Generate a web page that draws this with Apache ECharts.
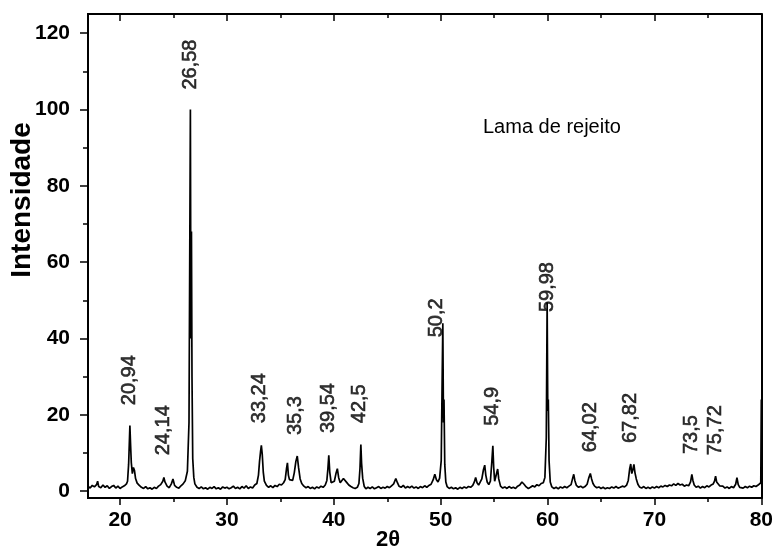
<!DOCTYPE html>
<html>
<head>
<meta charset="utf-8">
<script src="https://cdn.jsdelivr.net/npm/echarts@6/dist/echarts.min.js"></script>
<style>
  html, body { margin: 0; padding: 0; background: #fff; }
  #main { width: 776px; height: 549px; }
</style>
</head>
<body>
<div id="main"></div>
<script>
// difratograma: [2theta, intensidade]
var scan = [
  [17.0,1.3],[17.2,0.8],[17.4,1.5],[17.6,1.1],[17.8,1.7],[17.9,2.6],[18.0,1.2],[18.2,0.9],[18.4,1.6],[18.6,1.0],[18.8,1.4],[19.0,0.7],[19.2,1.2],[19.4,1.5],[19.6,0.8],[19.8,1.3],[20.0,0.7],[20.2,1.1],[20.4,1.4],[20.6,1.9],
  [20.7,2.6],[20.8,7.0],[20.86,12.0],[20.92,17.2],[20.98,12.5],[21.05,7.5],[21.15,4.6],[21.25,6.2],[21.35,5.4],[21.45,3.3],[21.6,2.1],[21.8,1.5],[22.0,1.0],[22.2,0.7],[22.4,1.2],[22.6,0.6],[22.8,0.9],[23.0,0.5],[23.2,1.0],[23.4,0.7],[23.6,1.3],[23.8,1.7],
  [24.0,2.6],[24.1,3.6],[24.2,2.4],[24.4,1.3],[24.6,0.9],[24.8,1.9],[24.95,3.2],[25.1,1.5],[25.3,1.0],[25.5,0.8],[25.7,1.4],[25.9,1.9],[26.1,2.7],[26.3,5.2],
  [26.45,18],[26.52,62],[26.58,100],[26.63,40],[26.68,68],[26.73,30],[26.8,8.5],[26.9,3.6],[27.0,1.9],[27.2,1.0],[27.4,0.7],[27.6,1.1],[27.8,0.6],[28.0,0.9],[28.2,0.5],[28.4,1.0],[28.6,0.7],[28.8,1.2],
  [29.0,0.6],[29.2,0.9],[29.4,0.5],[29.6,1.1],[29.8,0.8],[30.0,1.0],[30.2,0.6],[30.4,0.9],[30.6,1.3],[30.8,0.7],[31.0,1.0],[31.2,0.6],[31.4,1.2],[31.6,0.8],[31.8,1.4],[32.0,0.7],[32.2,1.1],[32.4,0.8],[32.6,1.6],[32.8,2.0],
  [32.95,4.2],[33.05,7.8],[33.15,10.5],[33.22,12.0],[33.3,9.8],[33.4,5.0],[33.5,2.6],[33.7,1.5],[33.9,1.0],[34.1,1.4],[34.3,0.9],[34.5,1.5],[34.7,1.2],[34.9,1.8],[35.1,1.6],[35.3,2.2],
  [35.45,3.0],[35.58,6.0],[35.66,7.4],[35.75,4.2],[35.85,3.0],[36.0,3.4],[36.15,2.8],[36.3,4.8],[36.45,7.8],[36.58,9.2],[36.7,6.2],[36.85,3.2],[37.0,2.0],[37.2,1.3],[37.4,0.9],[37.6,1.2],[37.8,0.7],
  [38.0,1.0],[38.2,0.6],[38.4,1.1],[38.6,0.8],[38.8,1.3],[39.0,1.0],[39.2,1.6],[39.35,2.8],[39.45,6.0],[39.53,9.4],[39.62,5.0],[39.75,2.2],[39.9,1.7],[40.05,2.6],[40.2,4.6],[40.33,5.9],[40.45,3.6],
  [40.6,2.2],[40.75,2.5],[40.9,3.3],[41.05,2.8],[41.2,2.3],[41.4,1.6],[41.6,1.2],[41.8,0.9],[42.0,0.7],[42.2,1.0],[42.35,2.0],[42.45,6.0],[42.53,12.2],[42.6,7.2],[42.7,3.4],[42.85,1.2],
  [43.0,0.6],[43.2,1.0],[43.4,0.7],[43.6,1.1],[43.8,0.6],[44.0,0.9],[44.2,1.2],[44.4,0.7],[44.6,1.0],[44.8,0.8],[45.0,1.2],[45.2,0.9],[45.4,1.4],[45.6,1.9],[45.8,3.3],[45.95,2.2],[46.1,1.3],
  [46.3,1.0],[46.5,1.5],[46.7,0.8],[46.9,1.2],[47.1,0.9],[47.3,1.3],[47.5,0.8],[47.7,1.1],[47.9,0.7],[48.1,1.2],[48.3,0.9],[48.5,1.4],[48.7,1.0],[48.9,1.5],[49.1,1.8],[49.3,3.0],[49.45,4.4],
  [49.6,3.0],[49.75,2.4],[49.9,3.4],[50.05,8.0],[50.14,30],[50.2,44],[50.26,18],[50.31,24],[50.38,7.0],[50.48,2.4],[50.6,1.2],[50.8,0.7],[51.0,1.0],[51.2,0.6],[51.4,0.9],[51.6,0.5],[51.8,1.0],
  [52.0,0.7],[52.2,1.1],[52.4,0.8],[52.6,1.2],[52.8,1.0],[53.0,1.5],[53.15,2.4],[53.27,3.6],[53.4,2.2],[53.55,1.6],[53.7,2.0],[53.85,3.2],[54.0,5.6],[54.12,6.8],[54.22,4.2],[54.35,2.4],
  [54.5,1.7],[54.65,2.6],[54.78,7.5],[54.88,11.9],[54.96,6.2],[55.05,2.6],[55.2,2.9],[55.33,5.8],[55.43,3.2],[55.6,1.3],[55.8,0.8],[56.0,1.1],[56.2,0.7],[56.4,1.2],[56.6,0.8],[56.8,1.0],
  [57.0,0.7],[57.2,1.3],[57.4,1.6],[57.6,2.4],[57.8,1.8],[58.0,1.1],[58.2,0.7],[58.4,1.0],[58.6,1.4],[58.8,1.1],[59.0,1.7],[59.2,1.4],[59.4,2.0],[59.6,2.2],[59.75,3.6],
  [59.88,14],[59.96,49.5],[60.02,21],[60.07,24],[60.14,8.0],[60.25,2.4],[60.4,1.1],[60.6,0.7],[60.8,1.0],[61.0,0.6],[61.2,1.1],[61.4,0.8],[61.6,1.2],[61.8,0.9],[62.0,1.3],[62.2,1.7],
  [62.35,3.4],[62.45,4.4],[62.55,2.8],[62.7,1.5],[62.9,1.0],[63.1,1.3],[63.3,0.9],[63.5,1.2],[63.7,1.8],[63.85,3.4],[64.0,4.6],[64.12,3.2],[64.25,2.0],[64.4,1.3],[64.6,0.9],[64.8,1.1],
  [65.0,0.7],[65.2,1.0],[65.4,0.6],[65.6,0.9],[65.8,0.7],[66.0,1.1],[66.2,0.8],[66.4,1.2],[66.6,0.8],[66.8,1.0],[67.0,1.3],[67.2,1.1],[67.4,1.6],[67.55,2.8],[67.68,5.8],[67.78,7.1],
  [67.88,4.6],[67.98,5.6],[68.08,7.0],[68.18,4.8],[68.3,3.2],[68.45,1.8],[68.6,1.1],[68.8,0.8],[69.0,1.2],[69.2,0.7],[69.4,1.0],[69.6,0.7],[69.8,1.1],[70.0,0.8],[70.2,1.2],[70.4,0.9],
  [70.6,1.3],[70.8,1.1],[71.0,1.5],[71.2,1.2],[71.4,1.6],[71.6,1.4],[71.8,1.9],[72.0,1.5],[72.2,2.0],[72.4,1.6],[72.6,1.8],[72.8,1.3],[73.0,1.6],[73.2,1.4],[73.38,2.4],[73.5,4.4],
  [73.6,2.8],[73.72,1.6],[73.9,1.0],[74.1,1.3],[74.3,0.8],[74.5,1.2],[74.7,0.9],[74.9,1.4],[75.1,1.1],[75.3,1.6],[75.5,1.9],[75.62,2.6],[75.72,3.9],[75.82,2.4],[75.95,2.2],[76.1,1.4],
  [76.25,1.0],[76.4,1.3],[76.6,0.8],[76.8,1.1],[77.0,0.7],[77.2,1.2],[77.4,0.9],[77.6,1.8],[77.72,3.5],[77.84,1.7],[77.98,1.0],[78.1,1.3],[78.3,0.8],[78.5,1.2],[78.7,0.9],[78.9,1.3],
  [79.1,1.0],[79.3,1.4],[79.5,1.2],[79.7,1.6],[79.85,1.8],[79.95,2.2],[80.0,24]
]

// rotulos dos picos: texto, posicao em 2theta e altura da base do texto
var peakText = ['20,94','24,14','26,58','33,24','35,3','39,54','42,5','50,2','54,9','59,98','64,02','67,82','73,5','75,72']
var peakX    = [20.9, 24.1, 26.6, 33.06, 36.46, 39.5, 42.4, 49.6, 54.84, 59.95, 64.0, 67.72, 73.45, 75.67]
var peakY    = [22.5, 9.4, 105.2, 17.8, 14.7, 15.2, 17.8, 40.3, 17.1, 46.9, 10.2, 12.6, 9.7, 9.4]

var xMajor = [20, 30, 40, 50, 60, 70, 80]
var xMinor = [25, 35, 45, 55, 65, 75]
var yMajor = [0, 20, 40, 60, 80, 100, 120]
var yMinor = [10, 30, 50, 70, 90, 110]

var xMin = 17, xMax = 80
var yMin = -1.8, yMax = 125

var font = 'Arial, "Liberation Sans", sans-serif'
var black = '#000'

function xAx(pos, ticks, len, inside, labels){
  return {
    type: 'value', position: pos, min: xMin, max: xMax,
    axisLine: { show: true, onZero: false, lineStyle: { color: black, width: 2 } },
    axisTick: { show: true, inside: inside, length: len, customValues: ticks, lineStyle: { color: black, width: 1.5 } },
    axisLabel: labels ? { show: true, customValues: ticks, color: black, fontFamily: font, fontWeight: 'bold', fontSize: 21, margin: 12 } : { show: false },
    splitLine: { show: false }
  }
}
function yAx(pos, ticks, len, inside, labels){
  return {
    type: 'value', position: pos, min: yMin, max: yMax,
    axisLine: { show: true, onZero: false, lineStyle: { color: black, width: 2 } },
    axisTick: { show: ticks.length > 0, inside: inside, length: len, customValues: ticks, lineStyle: { color: black, width: 1.5 } },
    axisLabel: labels ? { show: true, customValues: ticks, color: black, fontFamily: font, fontWeight: 'bold', fontSize: 21, margin: 18 } : { show: false },
    splitLine: { show: false }
  }
}

var chart = echarts.init(document.getElementById('main'))
var option = {
  animation: false,
  backgroundColor: '#fff',
  grid: { left: 88, right: 13, top: 14, bottom: 51, containLabel: false },
  xAxis: [
    xAx('bottom', xMajor, 7, false, true),
    xAx('bottom', xMinor, 4, false, false),
    xAx('top', xMajor, 7, true, false),
    xAx('top', xMinor, 4, true, false)
  ],
  yAxis: [
    yAx('left', yMajor, 8, false, true),
    yAx('left', yMinor, 5, false, false),
    yAx('right', [], 0, true, false)
  ],
  graphic: [
    { type: 'text', x: 22, y: 200, rotation: Math.PI / 2,
      style: { text: 'Intensidade', fill: black, font: 'bold 28px ' + font, align: 'center', verticalAlign: 'middle' } },
    { type: 'text', x: 388, y: 540,
      style: { text: '2\u03b8', fill: black, font: 'bold 22px ' + font, align: 'center', verticalAlign: 'middle' } },
    { type: 'text', x: 483, y: 127,
      style: { text: 'Lama de rejeito', fill: black, font: '20px ' + font, align: 'left', verticalAlign: 'middle' } }
  ],
  series: [
    {
      type: 'line', xAxisIndex: 0, yAxisIndex: 0,
      data: scan, showSymbol: false, symbol: 'none', sampling: null,
      lineStyle: { color: black, width: 1.7 }
    },
    {
      type: 'scatter', xAxisIndex: 0, yAxisIndex: 0, symbolSize: 0, silent: true,
      itemStyle: { color: black },
      data: peakText.map(function(t, i){ return { value: [peakX[i], peakY[i]], name: t } }),
      label: {
        show: true, position: 'top', distance: 0, rotate: 90, align: 'left', verticalAlign: 'middle',
        formatter: function(p){ return p.name },
        color: black, fontFamily: font, fontSize: 20,
        textBorderColor: black, textBorderWidth: 0.6
      }
    }
  ]
}
chart.setOption(option)
</script>
</body>
</html>
